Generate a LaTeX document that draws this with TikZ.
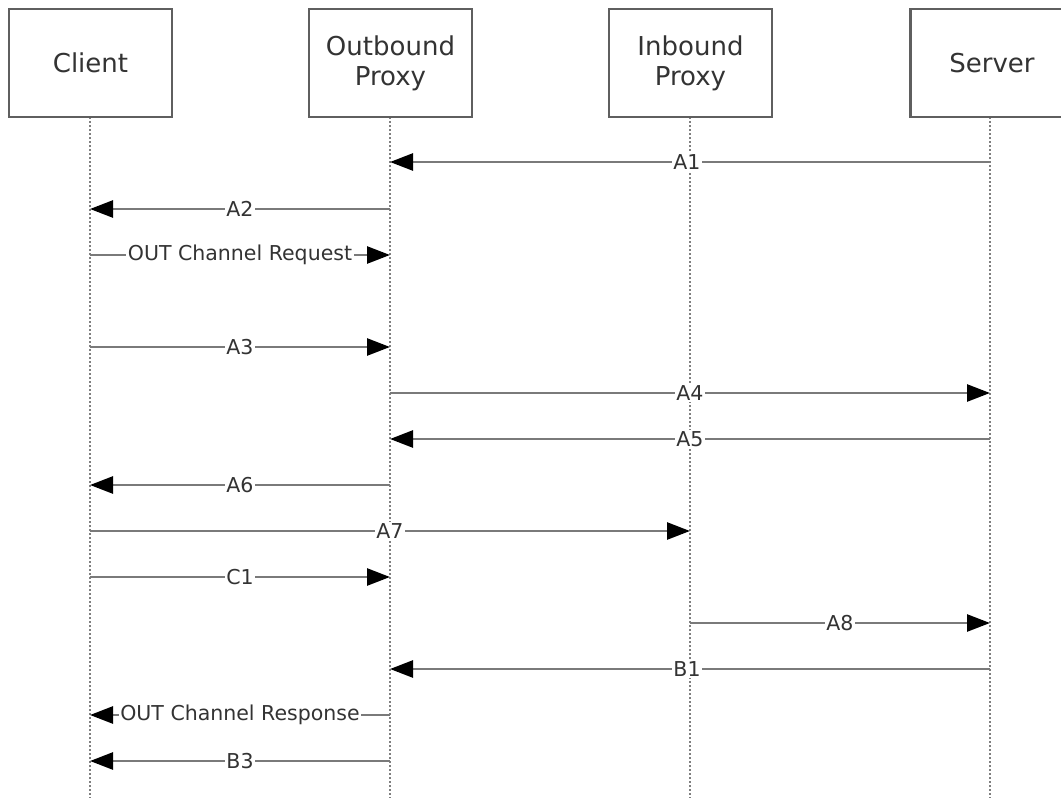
\documentclass[tikz,border=0pt]{standalone}
\usepackage{fontspec}
\setmainfont{DejaVu Sans}
\usetikzlibrary{arrows.meta}
\definecolor{boxline}{HTML}{5F5F5F}
\definecolor{txt}{HTML}{333333}
\definecolor{msgline}{HTML}{7A7A7A}
\definecolor{lifeline}{HTML}{7F7F7F}
\begin{document}
\begin{tikzpicture}[x=1pt,y=-1pt,
  actor/.style={draw=boxline,line width=2.6pt,fill=white,minimum width=163pt,minimum height=108pt,
    inner sep=0pt,align=center,text=txt,font=\fontsize{26}{30}\selectfont},
  life/.style={draw=lifeline,line width=2.4pt,dash pattern=on 2pt off 2pt},
  msg/.style={draw=msgline,line width=2.6pt,-{Triangle[length=23pt,width=17pt,color=black]}},
  lbl/.style={fill=white,inner sep=1.5pt,text=txt,font=\fontsize{20.5}{24}\selectfont,midway}]
\useasboundingbox (0,0) rectangle (1061,798);
\clip (0,0) rectangle (1061,798);
% lifelines
\coordinate (cT) at (90,117);  \coordinate (cB) at (90,798);
\coordinate (oT) at (390,117); \coordinate (oB) at (390,798);
\coordinate (iT) at (690,117); \coordinate (iB) at (690,798);
\coordinate (sT) at (990,117); \coordinate (sB) at (990,798);
\draw[life] (cT) -- (cB);
\draw[life] (oT) -- (oB);
\draw[life] (iT) -- (iB);
\draw[life] (sT) -- (sB);
% actors
\node[actor] (client) at (90.5,63) {Client};
\node[actor] (outp) at (390.5,63) {Outbound\\Proxy};
\node[actor] (inp) at (690.5,63) {Inbound\\Proxy};
\node[actor] (server) at (992,63) {Server};
% message anchor coordinates
\foreach \n/\y in {1/162,2/209,3/255,4/347,5/393,6/439,7/485,8/531,9/577,10/623,11/669,12/715,13/761}{
  \coordinate (c\n) at (90,\y);
  \coordinate (o\n) at (390,\y);
  \coordinate (i\n) at (690,\y);
  \coordinate (s\n) at (990,\y);
}
\draw[msg] (s1) -- (o1) node[lbl,xshift=-3pt] {A1};
\draw[msg] (o2) -- (c2) node[lbl] {A2};
\draw[msg] (c3) -- (o3) node[lbl] {OUT Channel Request};
\draw[msg] (c4) -- (o4) node[lbl] {A3};
\draw[msg] (o5) -- (s5) node[lbl] {A4};
\draw[msg] (s6) -- (o6) node[lbl] {A5};
\draw[msg] (o7) -- (c7) node[lbl] {A6};
\draw[msg] (c8) -- (i8) node[lbl] {A7};
\draw[msg] (c9) -- (o9) node[lbl] {C1};
\draw[msg] (i10) -- (s10) node[lbl] {A8};
\draw[msg] (s11) -- (o11) node[lbl,xshift=-3pt] {B1};
\draw[msg] (o12) -- (c12) node[lbl] {OUT Channel Response};
\draw[msg] (o13) -- (c13) node[lbl] {B3};
\end{tikzpicture}
\end{document}
